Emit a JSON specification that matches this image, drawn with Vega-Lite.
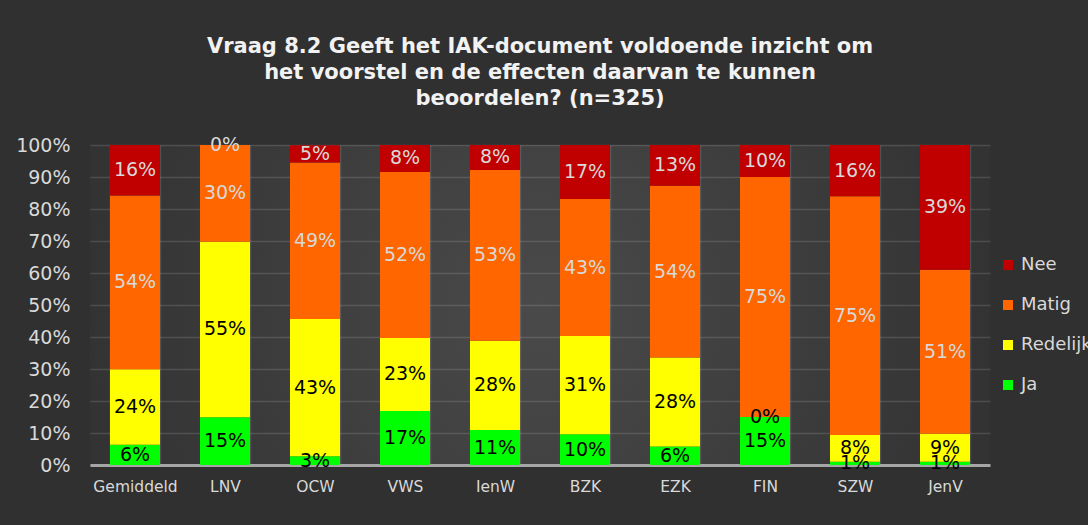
{
  "$schema": "https://vega.github.io/schema/vega-lite/v6.json",
  "width": 900,
  "height": 320,
  "autosize": {"type": "none"},
  "padding": {"left": 90, "top": 145, "right": 98, "bottom": 60},
  "background": "#303030",
  "title": {
    "text": ["Vraag 8.2 Geeft het IAK-document voldoende inzicht om", "het voorstel en de effecten daarvan te kunnen", "beoordelen? (n=325)"],
    "color": "#f2f2f2",
    "font": "DejaVu Sans",
    "fontSize": 21,
    "fontWeight": "bold",
    "anchor": "middle",
    "lineHeight": 26,
    "offset": 27
  },
  "datasets": {
    "volgorde": [
      {"antwoord": "Ja", "rang": 1},
      {"antwoord": "Redelijk", "rang": 2},
      {"antwoord": "Matig", "rang": 3},
      {"antwoord": "Nee", "rang": 4}
    ]
  },
  "data": {
    "values": [
      {"ministerie": "Gemiddeld", "antwoord": "Ja", "aandeel": 0.063},
      {"ministerie": "Gemiddeld", "antwoord": "Redelijk", "aandeel": 0.236},
      {"ministerie": "Gemiddeld", "antwoord": "Matig", "aandeel": 0.543},
      {"ministerie": "Gemiddeld", "antwoord": "Nee", "aandeel": 0.158},
      {"ministerie": "LNV", "antwoord": "Ja", "aandeel": 0.149},
      {"ministerie": "LNV", "antwoord": "Redelijk", "aandeel": 0.549},
      {"ministerie": "LNV", "antwoord": "Matig", "aandeel": 0.302},
      {"ministerie": "LNV", "antwoord": "Nee", "aandeel": 0.0},
      {"ministerie": "OCW", "antwoord": "Ja", "aandeel": 0.027},
      {"ministerie": "OCW", "antwoord": "Redelijk", "aandeel": 0.429},
      {"ministerie": "OCW", "antwoord": "Matig", "aandeel": 0.489},
      {"ministerie": "OCW", "antwoord": "Nee", "aandeel": 0.054},
      {"ministerie": "VWS", "antwoord": "Ja", "aandeel": 0.169},
      {"ministerie": "VWS", "antwoord": "Redelijk", "aandeel": 0.228},
      {"ministerie": "VWS", "antwoord": "Matig", "aandeel": 0.519},
      {"ministerie": "VWS", "antwoord": "Nee", "aandeel": 0.084},
      {"ministerie": "IenW", "antwoord": "Ja", "aandeel": 0.109},
      {"ministerie": "IenW", "antwoord": "Redelijk", "aandeel": 0.279},
      {"ministerie": "IenW", "antwoord": "Matig", "aandeel": 0.534},
      {"ministerie": "IenW", "antwoord": "Nee", "aandeel": 0.078},
      {"ministerie": "BZK", "antwoord": "Ja", "aandeel": 0.096},
      {"ministerie": "BZK", "antwoord": "Redelijk", "aandeel": 0.307},
      {"ministerie": "BZK", "antwoord": "Matig", "aandeel": 0.428},
      {"ministerie": "BZK", "antwoord": "Nee", "aandeel": 0.169},
      {"ministerie": "EZK", "antwoord": "Ja", "aandeel": 0.058},
      {"ministerie": "EZK", "antwoord": "Redelijk", "aandeel": 0.278},
      {"ministerie": "EZK", "antwoord": "Matig", "aandeel": 0.537},
      {"ministerie": "EZK", "antwoord": "Nee", "aandeel": 0.127},
      {"ministerie": "FIN", "antwoord": "Ja", "aandeel": 0.15},
      {"ministerie": "FIN", "antwoord": "Redelijk", "aandeel": 0.0},
      {"ministerie": "FIN", "antwoord": "Matig", "aandeel": 0.75},
      {"ministerie": "FIN", "antwoord": "Nee", "aandeel": 0.1},
      {"ministerie": "SZW", "antwoord": "Ja", "aandeel": 0.01},
      {"ministerie": "SZW", "antwoord": "Redelijk", "aandeel": 0.084},
      {"ministerie": "SZW", "antwoord": "Matig", "aandeel": 0.746},
      {"ministerie": "SZW", "antwoord": "Nee", "aandeel": 0.16},
      {"ministerie": "JenV", "antwoord": "Ja", "aandeel": 0.01},
      {"ministerie": "JenV", "antwoord": "Redelijk", "aandeel": 0.088},
      {"ministerie": "JenV", "antwoord": "Matig", "aandeel": 0.512},
      {"ministerie": "JenV", "antwoord": "Nee", "aandeel": 0.39}
    ]
  },
  "transform": [
    {"lookup": "antwoord", "from": {"data": {"name": "volgorde"}, "key": "antwoord", "fields": ["rang"]}}
  ],
  "encoding": {
    "x": {
      "field": "ministerie",
      "type": "nominal",
      "sort": null,
      "scale": {"paddingInner": 0.444, "paddingOuter": 0.222},
      "axis": {
        "title": null,
        "labelAngle": 0,
        "labelFont": "DejaVu Sans",
        "labelFontSize": 15.5,
        "labelColor": "#d9d9d9",
        "labelPadding": 14,
        "ticks": false,
        "tickBand": "extent",
        "grid": true,
        "gridColor": "#ffffff",
        "gridOpacity": 0.13,
        "gridWidth": 1.5,
        "domain": true,
        "domainColor": "#a6a6a6",
        "domainWidth": 3
      }
    },
    "y": {
      "field": "aandeel",
      "type": "quantitative",
      "stack": "zero",
      "scale": {"domain": [0, 1], "nice": false},
      "axis": {
        "title": null,
        "format": ".0%",
        "values": [0, 0.1, 0.2, 0.3, 0.4, 0.5, 0.6, 0.7, 0.8, 0.9, 1],
        "labelOverlap": false,
        "labelFont": "DejaVu Sans",
        "labelFontSize": 19,
        "labelColor": "#d9d9d9",
        "labelPadding": 20,
        "ticks": false,
        "domain": false,
        "grid": true,
        "gridColor": "#ffffff",
        "gridOpacity": 0.13,
        "gridWidth": 1.5
      }
    },
    "order": {"field": "rang", "type": "quantitative", "sort": "ascending"}
  },
  "layer": [
    {
      "mark": {"type": "bar"},
      "encoding": {
        "color": {
          "field": "antwoord",
          "type": "nominal",
          "sort": ["Nee", "Matig", "Redelijk", "Ja"],
          "scale": {"range": ["#c00000", "#ff6600", "#ffff00", "#00ff00"]},
          "legend": {
            "title": null,
            "orient": "none",
            "legendX": 909,
            "legendY": 111,
            "symbolType": "square",
            "symbolSize": 100,
            "symbolStrokeWidth": 0,
            "labelFont": "DejaVu Sans",
            "labelFontSize": 18,
            "labelColor": "#d9d9d9",
            "labelOffset": 4,
            "rowPadding": 22
          }
        }
      }
    },
    {
      "mark": {"type": "text", "font": "DejaVu Sans", "fontSize": 19, "baseline": "middle"},
      "encoding": {
        "y": {
          "field": "aandeel",
          "type": "quantitative",
          "stack": "zero",
          "bandPosition": 0.5,
          "axis": {
            "title": null,
            "format": ".0%",
            "values": [0, 0.1, 0.2, 0.3, 0.4, 0.5, 0.6, 0.7, 0.8, 0.9, 1],
            "labelOverlap": false,
            "labelFont": "DejaVu Sans",
            "labelFontSize": 19,
            "labelColor": "#d9d9d9",
            "labelPadding": 20,
            "ticks": false,
            "domain": false,
            "grid": true,
            "gridColor": "#ffffff",
            "gridOpacity": 0.13,
            "gridWidth": 1.5
          }
        },
        "text": {"field": "aandeel", "type": "quantitative", "format": ".0%"},
        "color": {
          "field": "antwoord",
          "type": "nominal",
          "sort": ["Nee", "Matig", "Redelijk", "Ja"],
          "scale": {"range": ["#d9d9d9", "#d9d9d9", "#000000", "#000000"]},
          "legend": null
        }
      }
    }
  ],
  "resolve": {"scale": {"color": "independent"}},
  "config": {
    "view": {
      "stroke": null,
      "fill": {
        "gradient": "radial",
        "stops": [
          {"offset": 0, "color": "#4a4a4a"},
          {"offset": 1, "color": "#333333"}
        ]
      }
    }
  }
}
